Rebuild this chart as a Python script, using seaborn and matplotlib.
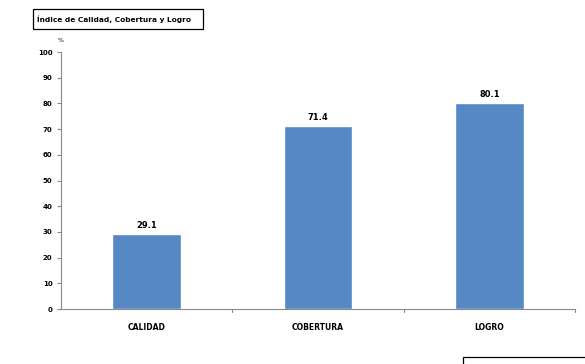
import matplotlib.pyplot as plt
import seaborn as sns
import pandas as pd
from matplotlib.patches import Rectangle

categorias = ["CALIDAD", "COBERTURA", "LOGRO"]
valores = [29.1, 71.4, 80.1]
y_ticks = list(range(0, 101, 10))

sns.set_theme(style="white")
plt.rcParams["font.family"] = ["DejaVu Sans"]
plt.rcParams["text.color"] = "black"
plt.rcParams["xtick.color"] = "black"
plt.rcParams["ytick.color"] = "black"

df = pd.DataFrame({"categoria": categorias, "valor": valores})

fig = plt.figure(figsize=(5.85, 3.64), dpi=100)
ax = fig.add_axes([0.104, 0.151, 0.879, 0.706])

sns.barplot(data=df, x="categoria", y="valor", color="#5588C4", width=0.4,
            saturation=1, ax=ax)

ax.set_ylim(0, 100)
ax.set_xlim(-0.5, 2.5)
ax.set_yticks(y_ticks)
ax.set_yticklabels([str(t) for t in y_ticks], fontsize=5, fontweight="bold")
ax.set_xticks([0, 1, 2])
ax.set_xticklabels(categorias, fontsize=5.5, fontweight="bold")
ax.tick_params(axis="x", length=0, pad=10)
ax.tick_params(axis="y", length=3, width=0.8, color="#888888", pad=3, direction="out", left=True)
# category boundary ticks on the x axis
for b in [0.5, 1.5, 2.5]:
    ax.plot([b, b], [0, -1.2], color="#888888", lw=0.8, clip_on=False)
ax.set_xlabel("")
ax.set_ylabel("")

for s in ["top", "right"]:
    ax.spines[s].set_visible(False)
for s in ["left", "bottom"]:
    ax.spines[s].set_color("#888888")
    ax.spines[s].set_linewidth(0.8)

for i, v in enumerate(valores):
    ax.text(i, v + 1.5, f"{v:.1f}", ha="center", va="bottom", fontsize=6, fontweight="bold")

ax.text(0.0, 1.035, "%", transform=ax.transAxes, fontsize=4.5, ha="center", va="bottom")

# title box
fig.text(0.064, 0.946, "Índice de Calidad, Cobertura y Logro", fontsize=5.3,
         fontweight="bold", ha="left", va="center")
fig.patches.append(Rectangle((0.056, 0.920), 0.291, 0.055, transform=fig.transFigure,
                             fill=False, edgecolor="black", lw=0.9))
# cropped box at bottom right
fig.patches.append(Rectangle((0.792, -0.02), 0.25, 0.04, transform=fig.transFigure,
                             fill=False, edgecolor="black", lw=0.9))

fig.savefig("out.png", dpi=100)
